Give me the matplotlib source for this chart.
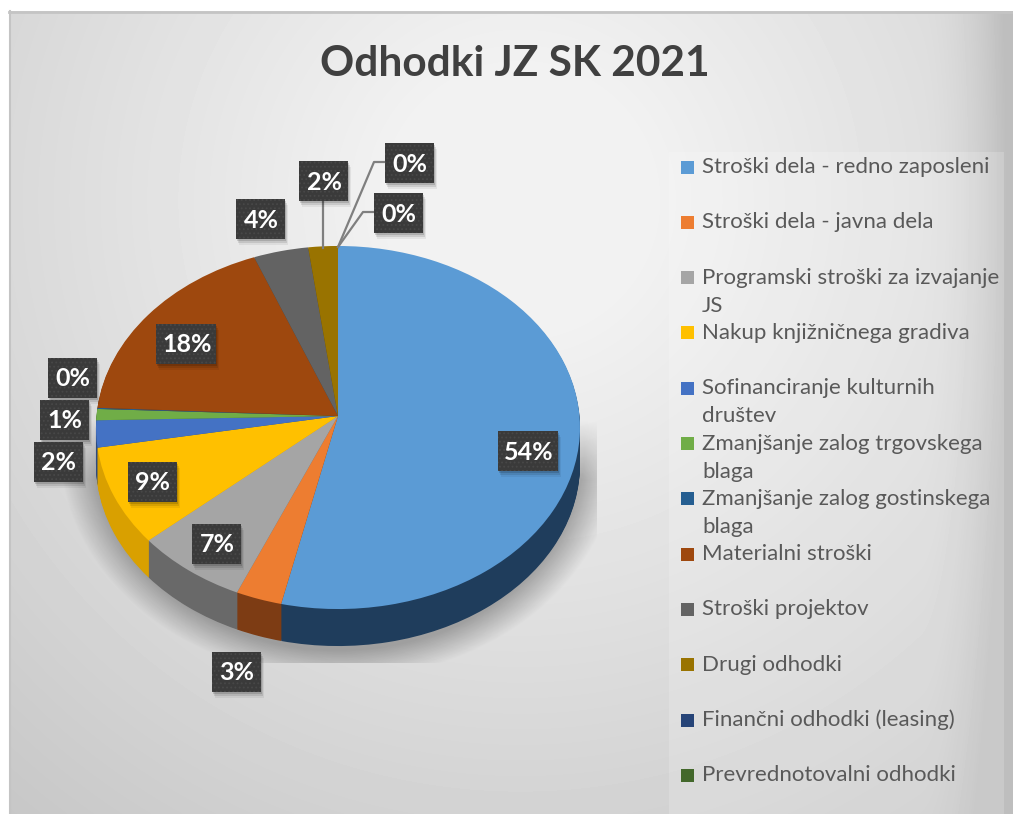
import numpy as np
import matplotlib
matplotlib.use('Agg')
import matplotlib.pyplot as plt
from matplotlib.patches import Rectangle
from matplotlib.transforms import Transform

plt.rcParams['font.family'] = ['Lato', 'DejaVu Sans']
plt.rcParams['hatch.linewidth'] = 0.8

# data
categories = ['Stroški dela - redno zaposleni', 'Stroški dela - javna dela',
              'Programski stroški za izvajanje\nJS', 'Nakup knjižničnega gradiva',
              'Sofinanciranje kulturnih\ndruštev', 'Zmanjšanje zalog trgovskega\nblaga',
              'Zmanjšanje zalog gostinskega\nblaga', 'Materialni stroški',
              'Stroški projektov', 'Drugi odhodki', 'Finančni odhodki (leasing)',
              'Prevrednotovalni odhodki']
values = [53.6, 2.9, 7.1, 8.7, 2.4, 1.0, 0.1, 18.3, 3.9, 2.1, 0.0, 0.0]
colors = ['#5B9BD5', '#ED7D31', '#A5A5A5', '#FFC000', '#4472C4', '#70AD47',
          '#255E91', '#9E480E', '#636363', '#997300', '#264478', '#43682B']
wall_colors = ['#1F3D5C', '#7D3C14', '#696969', '#D9A000', '#2C4A80', '#4A7330',
               '#183D5E', '#672F09', '#404040', '#634B00', '#182C4E', '#2C441C']

# label centres in pixels, same order as values
label_x = [528, 236, 216, 152, 58, 64, 72, 186, 260, 323, 409, 398]
label_y = [451, 672, 544, 482, 462, 420, 378, 344, 219, 181, 163, 213]

W, H = 1013, 814
CX, CY = 338, 416     # apex of the pie on screen
A, B, K = 241.5, 180.8, 0.0634


class TiltedPie(Transform):
    # unit pie -> pixels, with a bit of perspective so the near side is bigger
    input_dims = 2
    output_dims = 2

    def __init__(self, drop=0):
        super().__init__()
        self.drop = drop

    def transform_non_affine(self, xy):
        xy = np.asarray(xy, dtype=float)
        w = 1 + K * xy[:, 1]
        return np.column_stack([CX + A * xy[:, 0] / w,
                                CY + self.drop - B * xy[:, 1] / w])


fig = plt.figure(figsize=(W / 100, H / 100), dpi=100, facecolor='white')
ax = fig.add_axes([0, 0, 1, 1])

# chart background
yy, xx = np.mgrid[0:H, 0:W]
dist = np.hypot(xx - 520, yy - 200)
bg = np.minimum(250 - dist * 0.064, 242) - 32 * np.clip((xx - 920) / 90, 0, 1) ** 2
bg = np.clip(bg, 190, 250) / 255
ax.imshow(bg, cmap='gray', vmin=0, vmax=1, extent=(0, W, H, 0), zorder=0,
          interpolation='bilinear')

# soft shadow below the pie, nothing above the middle of it
d = np.sqrt(((xx - 339) / 250) ** 2 + ((yy - 448) / 206) ** 2)
sh = np.zeros((H, W, 4))
sh[..., 3] = np.clip((1.12 - d) / 0.14, 0, 1) * np.clip((yy - 420) / 60, 0, 1) * 0.28
sh[yy > 662, 3] = 0
sh[xx > 596, 3] = 0
ax.imshow(sh, extent=(0, W, H, 0), zorder=0.5, interpolation='bilinear')

# legend panel is a bit lighter
ax.add_patch(Rectangle((669, 152), 1004 - 669, H - 152, facecolor='white', alpha=0.18,
                       linewidth=0, zorder=0.6))

# side wall, stacked copies of the pie going down
for drop in range(37, 0, -1):
    wedges, _ = ax.pie(values, colors=wall_colors, startangle=90, counterclock=False,
                       wedgeprops={'linewidth': 0})
    for wd in wedges:
        wd.set_transform(TiltedPie(drop) + ax.transData)
        wd.set_zorder(2)

# top face
wedges, _ = ax.pie(values, colors=colors, startangle=90, counterclock=False,
                   wedgeprops={'linewidth': 0})
for wd in wedges:
    wd.set_transform(TiltedPie() + ax.transData)
    wd.set_zorder(3)

ax.set_aspect('auto')
ax.set_xlim(0, W)
ax.set_ylim(H, 0)
ax.set_axis_off()

# white margin and frame of the chart
ax.add_patch(Rectangle((0, 0), W, 11, facecolor='white', linewidth=0, zorder=1))
ax.add_patch(Rectangle((0, 0), 9, H, facecolor='white', linewidth=0, zorder=1))
ax.plot([9, W], [12, 12], color='#c4c4c4', lw=2, zorder=1.1)
ax.plot([10, 10], [11, H], color='#c4c4c4', lw=1.5, zorder=1.1)

# leader lines
ax.plot([323, 323], [200, 248], color='#7f7f7f', lw=1.6, zorder=4)
ax.plot([338, 374, 386], [247, 162, 162], color='#7f7f7f', lw=1.6, zorder=4)
ax.plot([338, 363, 375], [247, 212, 212], color='#7f7f7f', lw=1.6, zorder=4)

# data labels
for v, lx, ly in zip(values, label_x, label_y):
    txt = f'{v:.0f}%'
    bw = 60 if len(txt) > 2 else 49
    bh = 40
    for off, al in [(6, 0.06), (4, 0.10), (2, 0.14)]:
        ax.add_patch(Rectangle((lx - bw / 2 + off / 2, ly - bh / 2 + off), bw, bh,
                               facecolor='black', alpha=al, linewidth=0, zorder=5))
    ax.add_patch(Rectangle((lx - bw / 2, ly - bh / 2), bw, bh, facecolor='#3A3A3A',
                           edgecolor='#484848', hatch='....', linewidth=0, zorder=6))
    ax.text(lx + 1, ly + 1, txt, color='white', fontsize=18, fontweight='bold', ha='center',
            va='center', zorder=7)

# legend
for i, (name, c) in enumerate(zip(categories, colors)):
    y0 = 167 + i * 55.3
    ax.add_patch(Rectangle((681, y0 - 6.5), 13, 13, facecolor=c, linewidth=0, zorder=4))
    for j, line in enumerate(name.split('\n')):
        ax.text(702, y0 + j * 28, line, color='#595959', fontsize=16, ha='left',
                va='center', zorder=4)

ax.text(515, 64, 'Odhodki JZ SK 2021', color='#404040', fontsize=30.5, fontweight='bold',
        ha='center', va='center', zorder=4)

fig.savefig('out.png', dpi=100)
